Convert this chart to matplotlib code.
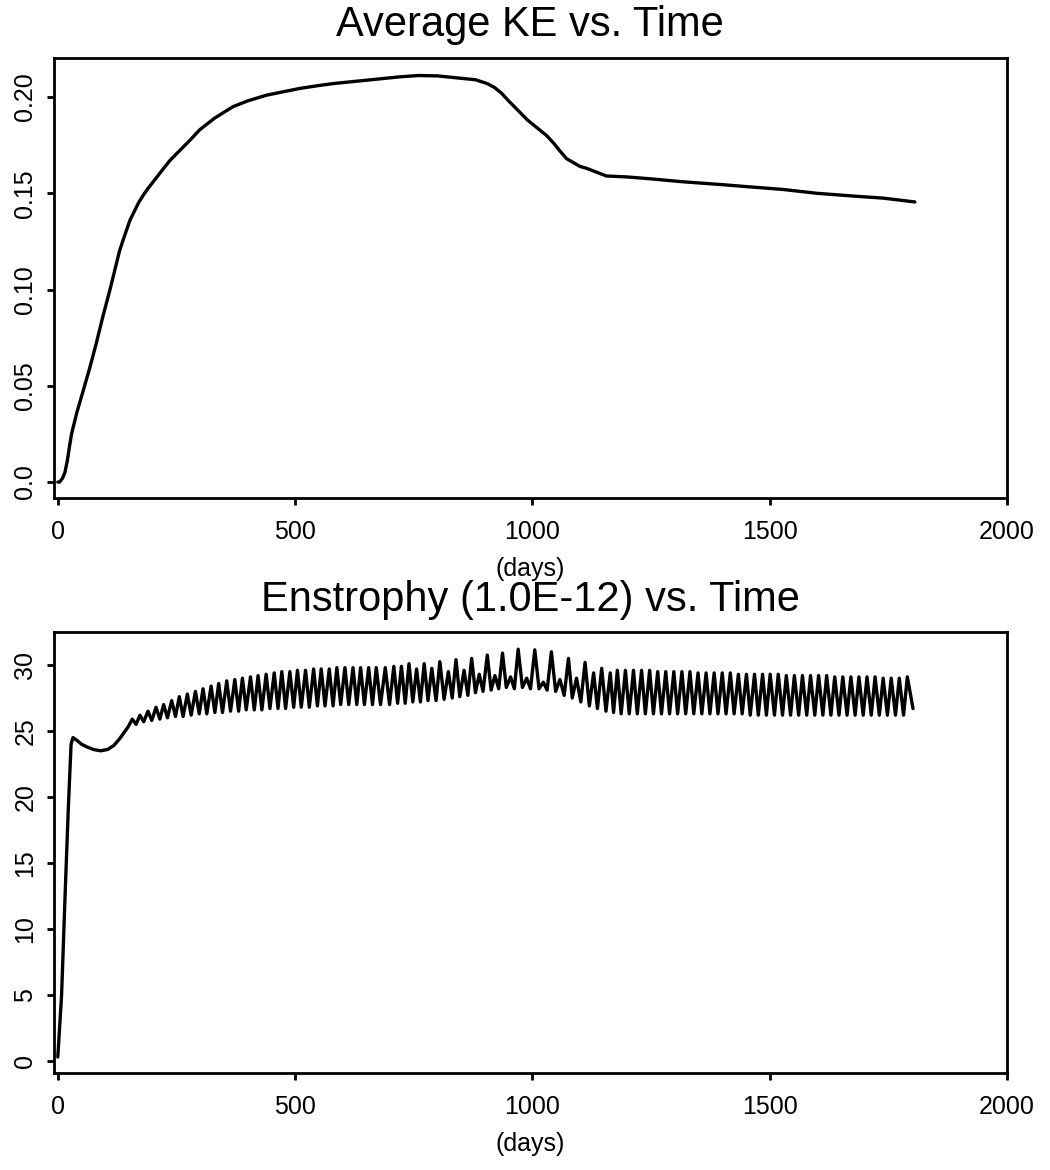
import matplotlib
matplotlib.use("Agg")
import matplotlib.pyplot as plt

plt.rcParams['font.family'] = ['Liberation Sans', 'DejaVu Sans']

# ---- Average KE data ----
ke_days = [0, 4, 10, 15, 20, 25, 29, 40, 53, 67, 81, 95, 110, 120, 130, 138, 145, 152,
           160, 170, 180, 190, 201, 220, 236, 260, 280, 299, 330, 369, 400, 440, 480,
           510, 550, 580, 620, 660, 700, 720, 760, 800, 840, 880, 905, 920, 935, 950,
           970, 990, 1010, 1030, 1045, 1058, 1072, 1086, 1100, 1114, 1135, 1156, 1200,
           1250, 1317, 1400, 1450, 1528, 1600, 1680, 1739, 1806]
ke_vals = [0.0, 0.0, 0.002, 0.005, 0.011, 0.019, 0.025, 0.036, 0.047, 0.059, 0.072,
           0.086, 0.100, 0.110, 0.120, 0.126, 0.131, 0.136, 0.140, 0.145, 0.149, 0.1525,
           0.156, 0.162, 0.167, 0.173, 0.178, 0.183, 0.189, 0.195, 0.198, 0.201, 0.203,
           0.2045, 0.206, 0.207, 0.208, 0.209, 0.210, 0.2105, 0.2112, 0.211, 0.210,
           0.209, 0.207, 0.205, 0.202, 0.198, 0.193, 0.188, 0.184, 0.180, 0.176, 0.172,
           0.168, 0.166, 0.164, 0.163, 0.161, 0.159, 0.1585, 0.1575, 0.156, 0.1545,
           0.1535, 0.152, 0.150, 0.1485, 0.1475, 0.1455]

# ---- Enstrophy data (1.0E-12), (day, value) ----
ens_start = [(0, 0.3), (8, 5.0), (15, 12.2), (22, 19.0), (28, 24.0), (32, 24.5),
             (40, 24.3), (50, 24.0), (61, 23.8), (75, 23.6), (90, 23.5), (105, 23.6),
             (118, 23.9), (130, 24.4), (140, 24.9), (148, 25.3)]
ens_peaks = [(157, 25.9), (173, 26.2), (190, 26.5), (207, 26.8), (223, 27.0), (240, 27.3),
             (256, 27.6), (273, 27.8), (290, 28.0), (306, 28.2), (323, 28.4), (339, 28.6),
             (356, 28.8), (373, 28.9), (389, 29.0), (406, 29.1), (422, 29.2), (439, 29.3),
             (456, 29.4), (472, 29.5), (489, 29.5), (505, 29.6), (522, 29.6), (539, 29.7),
             (555, 29.7), (572, 29.7), (588, 29.8), (605, 29.8), (622, 29.8), (638, 29.8),
             (655, 29.8), (671, 29.8),
             (690, 29.8), (708, 29.9), (724, 29.9), (740, 30.1), (756, 29.7), (772, 30.1),
             (788, 29.75), (805, 30.25), (823, 29.5), (839, 30.4), (856, 29.6), (872, 30.5),
             (888, 29.3), (905, 30.75), (921, 29.2), (937, 30.9), (954, 29.1), (970, 31.2),
             (988, 29.0), (1005, 31.15), (1023, 28.7), (1040, 31.0), (1058, 28.9),
             (1076, 30.5), (1093, 29.0), (1111, 30.2), (1129, 29.4), (1146, 29.75),
             (1164, 29.4), (1179, 29.6),
             (1196, 29.6), (1213, 29.6), (1230, 29.6), (1247, 29.6), (1264, 29.5),
             (1281, 29.5), (1298, 29.5), (1315, 29.5), (1332, 29.5), (1349, 29.4),
             (1366, 29.4), (1383, 29.4), (1400, 29.4), (1417, 29.4), (1434, 29.3),
             (1451, 29.3), (1468, 29.3), (1485, 29.3), (1501, 29.3), (1518, 29.3),
             (1535, 29.2), (1552, 29.2), (1569, 29.2), (1586, 29.2), (1603, 29.2),
             (1620, 29.2), (1637, 29.1), (1654, 29.1), (1671, 29.1), (1688, 29.1),
             (1705, 29.1), (1722, 29.1), (1739, 29.0), (1756, 29.0), (1773, 29.0),
             (1790, 29.1)]
ens_troughs = [(165, 25.5), (181, 25.7), (198, 25.8), (215, 25.9), (231, 26.0), (248, 26.1),
               (264, 26.1), (281, 26.2), (298, 26.3), (314, 26.3), (331, 26.4), (347, 26.4),
               (364, 26.5), (381, 26.5), (397, 26.6), (414, 26.6), (430, 26.6), (447, 26.7),
               (464, 26.7), (480, 26.7), (497, 26.8), (513, 26.8), (530, 26.8), (547, 26.9),
               (563, 26.9), (580, 26.9), (596, 27.0), (613, 27.0), (630, 27.0), (646, 27.0),
               (663, 27.0), (680, 27.0),
               (699, 27.0), (716, 27.1), (732, 27.1), (748, 27.2), (764, 27.2), (780, 27.3),
               (797, 27.3), (814, 27.4), (831, 27.5), (847, 27.6), (864, 27.7), (880, 27.9),
               (896, 28.0), (913, 28.1), (929, 28.2), (945, 28.3), (962, 28.2), (979, 28.3),
               (996, 28.2), (1014, 28.2), (1031, 28.1), (1049, 28.0), (1067, 27.7),
               (1084, 27.5), (1102, 27.2), (1120, 26.9), (1137, 26.7), (1155, 26.5),
               (1171, 26.4),
               (1187, 26.3), (1204, 26.3), (1221, 26.3), (1238, 26.3), (1255, 26.3),
               (1272, 26.3), (1289, 26.3), (1306, 26.3), (1323, 26.3), (1340, 26.3),
               (1357, 26.3), (1374, 26.3), (1391, 26.3), (1408, 26.3), (1425, 26.3),
               (1442, 26.3), (1459, 26.2), (1476, 26.2), (1493, 26.2), (1510, 26.2),
               (1527, 26.2), (1544, 26.2), (1561, 26.2), (1578, 26.2), (1595, 26.2),
               (1612, 26.2), (1629, 26.2), (1646, 26.2), (1663, 26.2), (1680, 26.2),
               (1697, 26.2), (1714, 26.2), (1731, 26.2), (1748, 26.2), (1765, 26.2),
               (1782, 26.2), (1802, 26.7)]

x_ticks = [0, 500, 1000, 1500, 2000]
ke_ticks = [0.0, 0.05, 0.10, 0.15, 0.20]
ke_ticklabels = ["0.0", "0.05", "0.10", "0.15", "0.20"]
ens_ticks = [0, 5, 10, 15, 20, 25, 30]

ens_all = sorted(ens_start + ens_peaks + ens_troughs)
ens_days = [p[0] for p in ens_all]
ens_vals = [p[1] for p in ens_all]

W, H = 1050, 1170
fig = plt.figure(figsize=(W / 100, H / 100), dpi=100)

def px_axes(left, top, right, bottom):
    return fig.add_axes([left / W, 1 - bottom / H, (right - left) / W, (bottom - top) / H])

ax1 = px_axes(54, 58, 1007, 498)
ax2 = px_axes(54, 632, 1007, 1073)

for ax in (ax1, ax2):
    for s in ax.spines.values():
        s.set_linewidth(2.0)
        s.set_color('black')
    ax.tick_params(direction='out', length=5, width=2, labelsize=18)
    ax.tick_params(axis='x', pad=11)
    ax.tick_params(axis='y', pad=7)
    ax.set_xlim(-8, 2000)
    ax.set_xticks(x_ticks)
    ax.set_xticklabels([str(t) for t in x_ticks])
    ax.set_xlabel("(days)", fontsize=18, labelpad=9)

ax1.plot(ke_days, ke_vals, color='black', linewidth=2.4,
         solid_joinstyle='round', solid_capstyle='round')
ax1.set_ylim(-0.0083, 0.2203)
ax1.set_yticks(ke_ticks)
ax1.set_yticklabels(ke_ticklabels, rotation=90, va='center')

ax2.plot(ens_days, ens_vals, color='black', linewidth=2.4,
         solid_joinstyle='round', solid_capstyle='round')
ax2.set_ylim(-0.91, 32.5)
ax2.set_yticks(ens_ticks)
ax2.set_yticklabels([str(t) for t in ens_ticks], rotation=90, va='center')

fig.text(530 / W, 1 - 25 / H, "Average KE vs. Time", ha='center', va='center', fontsize=30)
fig.text(530 / W, 1 - 600 / H, "Enstrophy (1.0E-12) vs. Time", ha='center', va='center', fontsize=30)

fig.savefig("out.png", dpi=100)
